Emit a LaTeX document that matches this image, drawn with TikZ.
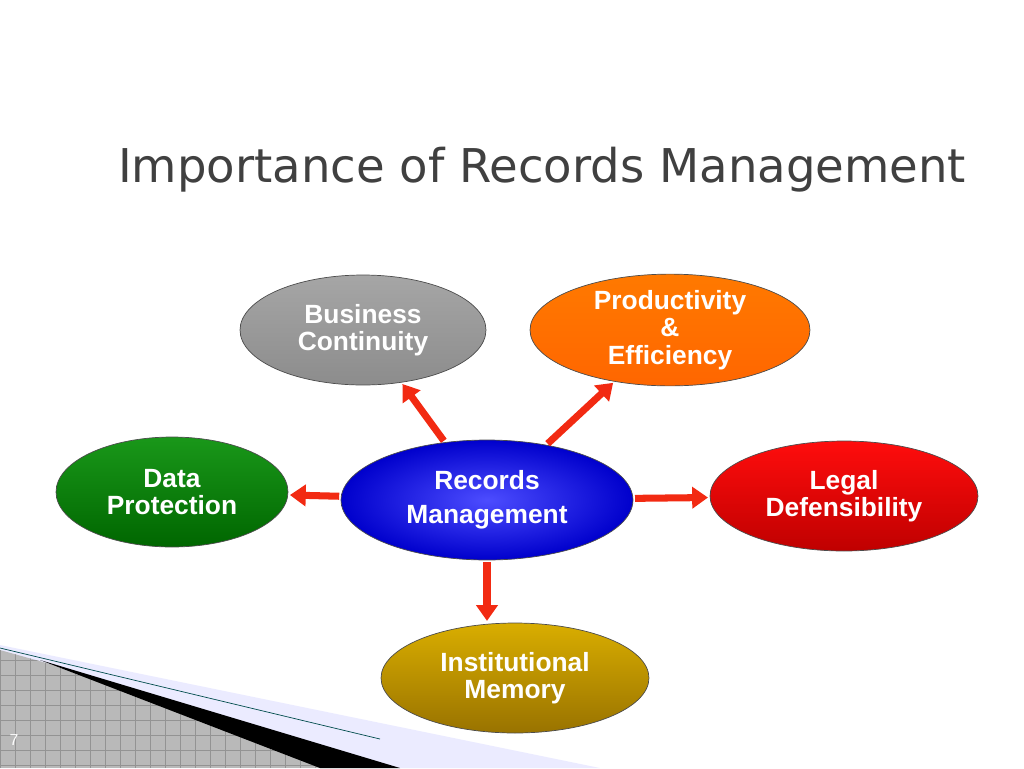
\documentclass[tikz,border=0pt]{standalone}
\usepackage{fontspec}
\setmainfont{Liberation Sans}
\newfontfamily\titlefont{DejaVu Sans}
\usetikzlibrary{shapes.geometric,arrows.meta}

\definecolor{titlegray}{HTML}{404040}
\definecolor{arrowred}{HTML}{F22A12}

\tikzset{
  topic/.style={ellipse,draw=black!70,thin,inner sep=0pt,align=center,
    text=white,font=\fontsize{15}{15.5}\selectfont\bfseries},
  flow/.style={-{Triangle[length=9pt,width=12pt]},line width=4pt,draw=arrowred,
    shorten >=1pt,shorten <=1pt}
}

\begin{document}
\begin{tikzpicture}[x=0.02cm,y=-0.02cm]
\useasboundingbox (0,0) rectangle (1024,768);

% corner decoration
\fill[blue!8] (0,645) -- (600,768) -- (0,768) -- cycle;
\begin{scope}
\clip (0,650) -- (50,664) -- (330,768) -- (0,768) -- cycle;
\fill[gray!55] (0,640) rectangle (400,768);
\draw[step=0.3cm,gray!85,very thin] (0,640) grid (400,768);
\end{scope}
\fill[black] (40,660) -- (400,768) -- (320,768) -- cycle;
\draw[teal!60!black,thin] (0,648) -- (380,739);
\node[text=white,font=\small] (pg) at (14,740) {7};

% title
\node[text=titlegray,font=\titlefont\fontsize{26.5}{30}\selectfont] (title) at (542,170)
  {Importance of Records Management};

% nodes
\node[topic,minimum width=5.84cm,minimum height=2.4cm,
  shading=radial,inner color=blue!70,outer color=blue!80!black] (rm) at (487,500)
  {Records\\[4pt]Management};
\node[topic,minimum width=4.92cm,minimum height=2.2cm,
  top color=gray!70,bottom color=gray!90] (bc) at (363,330) {Business\\Continuity};
\node[topic,minimum width=5.6cm,minimum height=2.2cm,
  top color=orange!95!red,bottom color=orange!80!red] (pe) at (670,330)
  {Productivity\\\&\\Efficiency};
\node[topic,minimum width=4.64cm,minimum height=2.2cm,
  top color=green!55!black!90,bottom color=green!40!black] (dp) at (172,492)
  {Data\\Protection};
\node[topic,minimum width=5.36cm,minimum height=2.2cm,
  top color=red!95,bottom color=red!75!black] (ld) at (844,496)
  {Legal\\Defensibility};
\node[topic,minimum width=5.36cm,minimum height=2.2cm,
  top color=yellow!60!orange!85!black,bottom color=yellow!50!orange!60!black] (im) at (515,678)
  {Institutional\\Memory};

% connectors
\draw[flow] (rm) -- (bc);
\draw[flow] (rm) -- (pe);
\draw[flow] (rm) -- (dp);
\draw[flow] (rm) -- (ld);
\draw[flow] (rm.south) -- (rm.south |- im.north);
\end{tikzpicture}
\end{document}
